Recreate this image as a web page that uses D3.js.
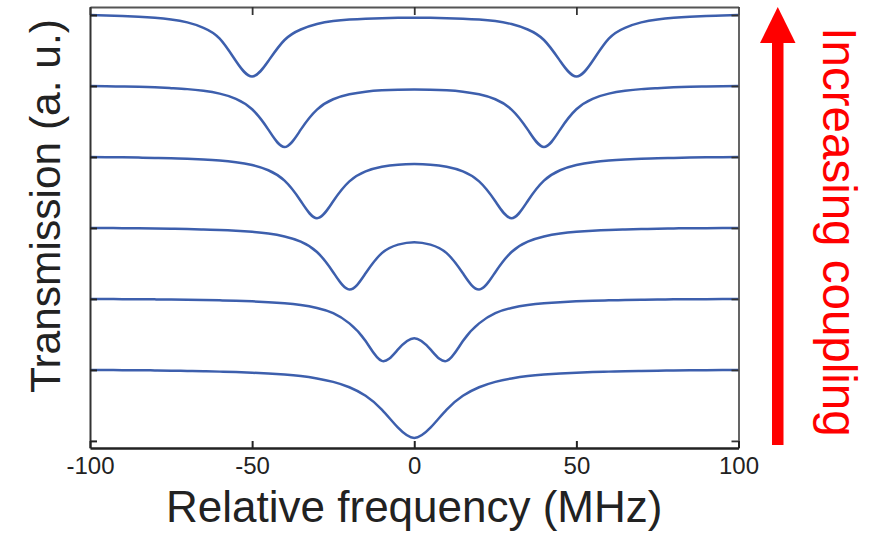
<!DOCTYPE html>
<html>
<head>
<meta charset="utf-8">
<script src="https://cdn.jsdelivr.net/npm/d3@7"></script>
<style>
  body { margin: 0; background: #fff; }
  svg text { font-family: "Liberation Sans", Arial, sans-serif; }
</style>
</head>
<body>
<div id="chart"></div>
<script>

// frequency grid (MHz)
const freqs = [-100, -95, -90, -85, -80, -75, -70, -65, -60, -55, -50, -45, -40, -35, -30, -25, -20, -15, -10, -5, 0,
    5, 10, 15, 20, 25, 30, 35, 40, 45, 50, 55, 60, 65, 70, 75, 80, 85, 90, 95, 100];

// transmission traces, bottom (no splitting) to top (largest splitting)
const tSplit0 = [1.000, .999, .997, .996, .993, .990, .986, .982, .976, .970, .961, .949, .934, .913, .880, .832, .756, .635, .441, .186, .042,
    .186, .441, .635, .756, .832, .880, .913, .934, .949, .961, .970, .976, .982, .986, .990, .993, .996, .997, .999, 1.000];
const tSplit10 = [1.000, .999, .997, .996, .994, .992, .989, .985, .980, .975, .966, .955, .939, .914, .873, .800, .656, .408, .127, .289, .446,
    .289, .127, .408, .656, .800, .873, .914, .939, .955, .966, .975, .980, .985, .989, .992, .994, .996, .997, .999, 1.000];
const tSplit20 = [1.000, .999, .997, .996, .993, .989, .985, .979, .972, .961, .945, .921, .880, .807, .661, .377, .132, .361, .645, .765, .800,
    .765, .645, .361, .132, .377, .661, .807, .880, .921, .945, .961, .972, .979, .985, .989, .993, .996, .997, .999, 1.000];
const tSplit30 = [1.000, .997, .996, .992, .987, .983, .975, .965, .951, .927, .886, .813, .666, .380, .137, .376, .656, .797, .862, .892, .900,
    .892, .862, .797, .656, .376, .137, .380, .666, .813, .886, .927, .951, .965, .975, .983, .987, .992, .996, .997, 1.000];
const tSplit40 = [1.000, .997, .993, .989, .982, .970, .956, .932, .893, .820, .672, .386, .141, .385, .668, .813, .883, .920, .939, .948, .951,
    .948, .939, .920, .883, .813, .668, .385, .141, .386, .672, .820, .893, .932, .956, .970, .982, .989, .993, .997, 1.000];
const tSplit50 = [1.000, .994, .987, .977, .962, .938, .896, .820, .668, .352, .134, .352, .648, .796, .873, .915, .937, .949, .956, .961, .962,
    .961, .956, .949, .937, .915, .873, .796, .648, .352, .134, .352, .668, .820, .896, .938, .962, .977, .987, .994, 1.000];

const traces = [tSplit0, tSplit10, tSplit20, tSplit30, tSplit40, tSplit50];
const offsets = [0, 1, 2, 3, 4, 5];

const xTicks = [-100, -50, 0, 50, 100];
const yTicks = [0, 1, 2, 3, 4, 5, 6];

const width = 875, height = 535;
const plot = { left: 90, right: 738.5, top: 7, bottom: 448 };

const svg = d3.select("#chart").append("svg")
    .attr("width", width)
    .attr("height", height);

const x = d3.scaleLinear().domain([-100, 100]).range([plot.left, plot.right]);
const y = d3.scaleLinear().domain([-0.1, 6.113]).range([plot.bottom, plot.top]);

// curves
const line = d3.line()
    .x((d, i) => x(freqs[i]))
    .y(d => y(d))
    .curve(d3.curveNatural);

svg.append("g")
    .selectAll("path")
    .data(traces.map((t, k) => t.map(v => v + offsets[k])))
    .join("path")
    .attr("d", line)
    .attr("fill", "none")
    .attr("stroke", "#3d5fad")
    .attr("stroke-width", 2.5)
    .attr("stroke-linejoin", "round");

// frame: top and right (mirror ticks, no labels)
const axTop = svg.append("g")
    .attr("transform", `translate(0,${plot.top})`)
    .call(d3.axisTop(x).tickValues(xTicks).tickSizeInner(-8).tickSizeOuter(0).tickFormat(""));
const axRight = svg.append("g")
    .attr("transform", `translate(${plot.right},0)`)
    .call(d3.axisRight(y).tickValues(yTicks).tickSizeInner(-7).tickSizeOuter(0).tickFormat(""));
[axTop, axRight].forEach(g => {
    g.select(".domain").attr("stroke", "#555").attr("stroke-width", 1.8);
    g.selectAll(".tick line").attr("stroke", "#333").attr("stroke-width", 1.8);
});

// left axis (unlabelled ticks)
const axLeft = svg.append("g")
    .attr("transform", `translate(${plot.left},0)`)
    .call(d3.axisLeft(y).tickValues(yTicks).tickSizeInner(-7).tickSizeOuter(0).tickFormat(""));
axLeft.select(".domain").attr("stroke", "#333").attr("stroke-width", 2);
axLeft.selectAll(".tick line").attr("stroke", "#222").attr("stroke-width", 2);

// bottom axis
const axBottom = svg.append("g")
    .attr("transform", `translate(0,${plot.bottom})`)
    .call(d3.axisBottom(x).tickValues(xTicks).tickSizeInner(-7).tickSizeOuter(0).tickPadding(9)
        .tickFormat(d => String(d)));
axBottom.select(".domain").attr("stroke", "#222").attr("stroke-width", 2.6);
axBottom.selectAll(".tick line").attr("stroke", "#222").attr("stroke-width", 2);
axBottom.selectAll(".tick text")
    .attr("fill", "#222")
    .style("font-size", "24px");

// axis titles
svg.append("text")
    .attr("x", (plot.left + plot.right) / 2)
    .attr("y", 522)
    .attr("text-anchor", "middle")
    .attr("fill", "#222")
    .style("font-size", "44px")
    .text("Relative frequency (MHz)");

svg.append("text")
    .attr("transform", "translate(60,206) rotate(-90)")
    .attr("text-anchor", "middle")
    .attr("fill", "#222")
    .style("font-size", "42.5px")
    .text("Transmission (a. u.)");

// red arrow + label
svg.append("rect")
    .attr("x", 772)
    .attr("y", 40)
    .attr("width", 11.5)
    .attr("height", 405)
    .attr("fill", "#ff0000");
svg.append("path")
    .attr("d", "M760,43 L777.75,7 L795.5,43 Z")
    .attr("fill", "#ff0000");

svg.append("text")
    .attr("transform", "translate(823,232) rotate(90)")
    .attr("text-anchor", "middle")
    .attr("fill", "#ff0000")
    .style("font-size", "47.5px")
    .text("Increasing coupling");

</script>
</body>
</html>
